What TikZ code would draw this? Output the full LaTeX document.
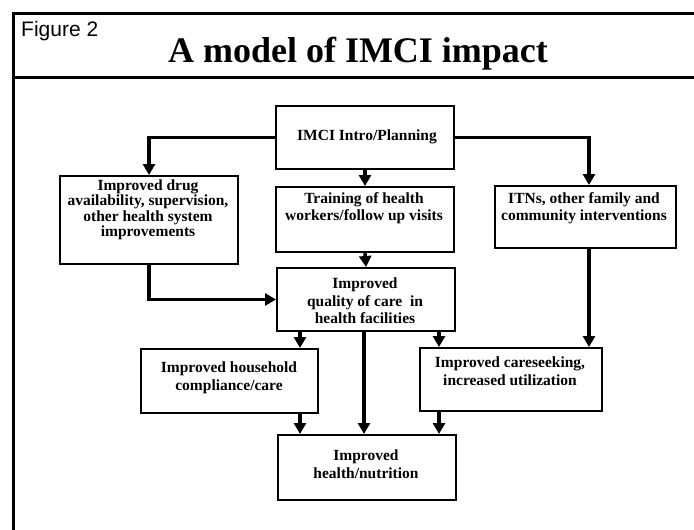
\documentclass[tikz,border=0pt]{standalone}
\usepackage{fontspec}
\setmainfont{Liberation Serif}
\newfontfamily\figfont{Liberation Sans}
\usetikzlibrary{arrows.meta}
\begin{document}
\begin{tikzpicture}[x=1pt,y=-1pt,
  box/.style={draw=black,line width=2pt,rectangle,anchor=north west,inner sep=0pt},
  txt/.style={font=\bfseries\fontsize{15.5}{17.5}\selectfont,align=center,inner sep=0pt},
  conn/.style={line width=3.4pt,-{Triangle[width=12pt,length=11pt]}},
  frame/.style={line width=3pt}]
\useasboundingbox (0,0) rectangle (694,530);
% frame
\draw[frame] (13,530) -- (13,13) -- (694,13);
\draw[frame] (13,77) -- (694,77);
\node[font=\figfont\fontsize{21}{24}\selectfont,anchor=base west,inner sep=0pt] (fig) at (21,36) {Figure 2};
\node[font=\bfseries\fontsize{36}{40}\selectfont,anchor=base,inner sep=0pt] (title) at (358,62) {A model of IMCI impact};
% boxes
\node[box,minimum width=178pt,minimum height=63pt] (intro) at (275,105) {};
\node[box,minimum width=178pt,minimum height=88pt] (drug) at (59,175) {};
\node[box,minimum width=178pt,minimum height=65pt] (train) at (275,186) {};
\node[box,minimum width=181pt,minimum height=62pt] (itns) at (494,185) {};
\node[box,minimum width=178pt,minimum height=63pt] (qual) at (276,267) {};
\node[box,minimum width=177pt,minimum height=64pt] (hh) at (140,348) {};
\node[box,minimum width=182pt,minimum height=63pt] (cs) at (419,347) {};
\node[box,minimum width=178pt,minimum height=65pt] (health) at (277,434) {};
% texts
\node[txt] (introT) at (367,137) {IMCI Intro/Planning};
\node[txt,font=\bfseries\fontsize{15.5}{15.5}\selectfont] (drugT) at (148,210) {Improved drug\\availability, supervision,\\other health system\\improvements};
\node[txt] (trainT) at (364,208) {Training of health\\workers/follow up visits};
\node[txt] (itnsT) at (584,208) {ITNs, other family and\\community interventions};
\node[txt] (qualT) at (365,301) {Improved\\quality of care\ \ in\\health facilities};
\node[txt] (hhT) at (229,378) {Improved household\\compliance/care};
\node[txt] (csT) at (510,371) {Improved careseeking,\\increased utilization};
\node[txt] (healthT) at (366,464) {Improved\\health/nutrition};
% connectors
\draw[conn] (intro.west) -| (drug.north);
\draw[conn] (intro.east) -| ([xshift=3.5pt]itns.north);
\draw[conn] (intro.south) -- (train.north);
\draw[conn] (train.south) -- (qual.north);
\draw[conn] (drug.south) |- (qual.west);
\draw[conn] ([xshift=3.5pt]itns.south) -- ([xshift=3.5pt]itns.south |- cs.north);
\draw[conn] ([xshift=24pt]qual.south west) -- ([xshift=24pt]qual.south west |- hh.north);
\draw[conn] ([xshift=-17pt]qual.south east) -- ([xshift=-17pt]qual.south east |- cs.north);
\draw[conn,line width=4.6pt] ([xshift=-2pt]qual.south) -- ([xshift=-2pt]qual.south |- health.north);
\draw[conn] ([xshift=23pt]health.north west |- hh.south) -- ([xshift=23pt]health.north west);
\draw[conn] ([xshift=-18pt]health.north east |- cs.south) -- ([xshift=-18pt]health.north east);
\end{tikzpicture}
\end{document}
